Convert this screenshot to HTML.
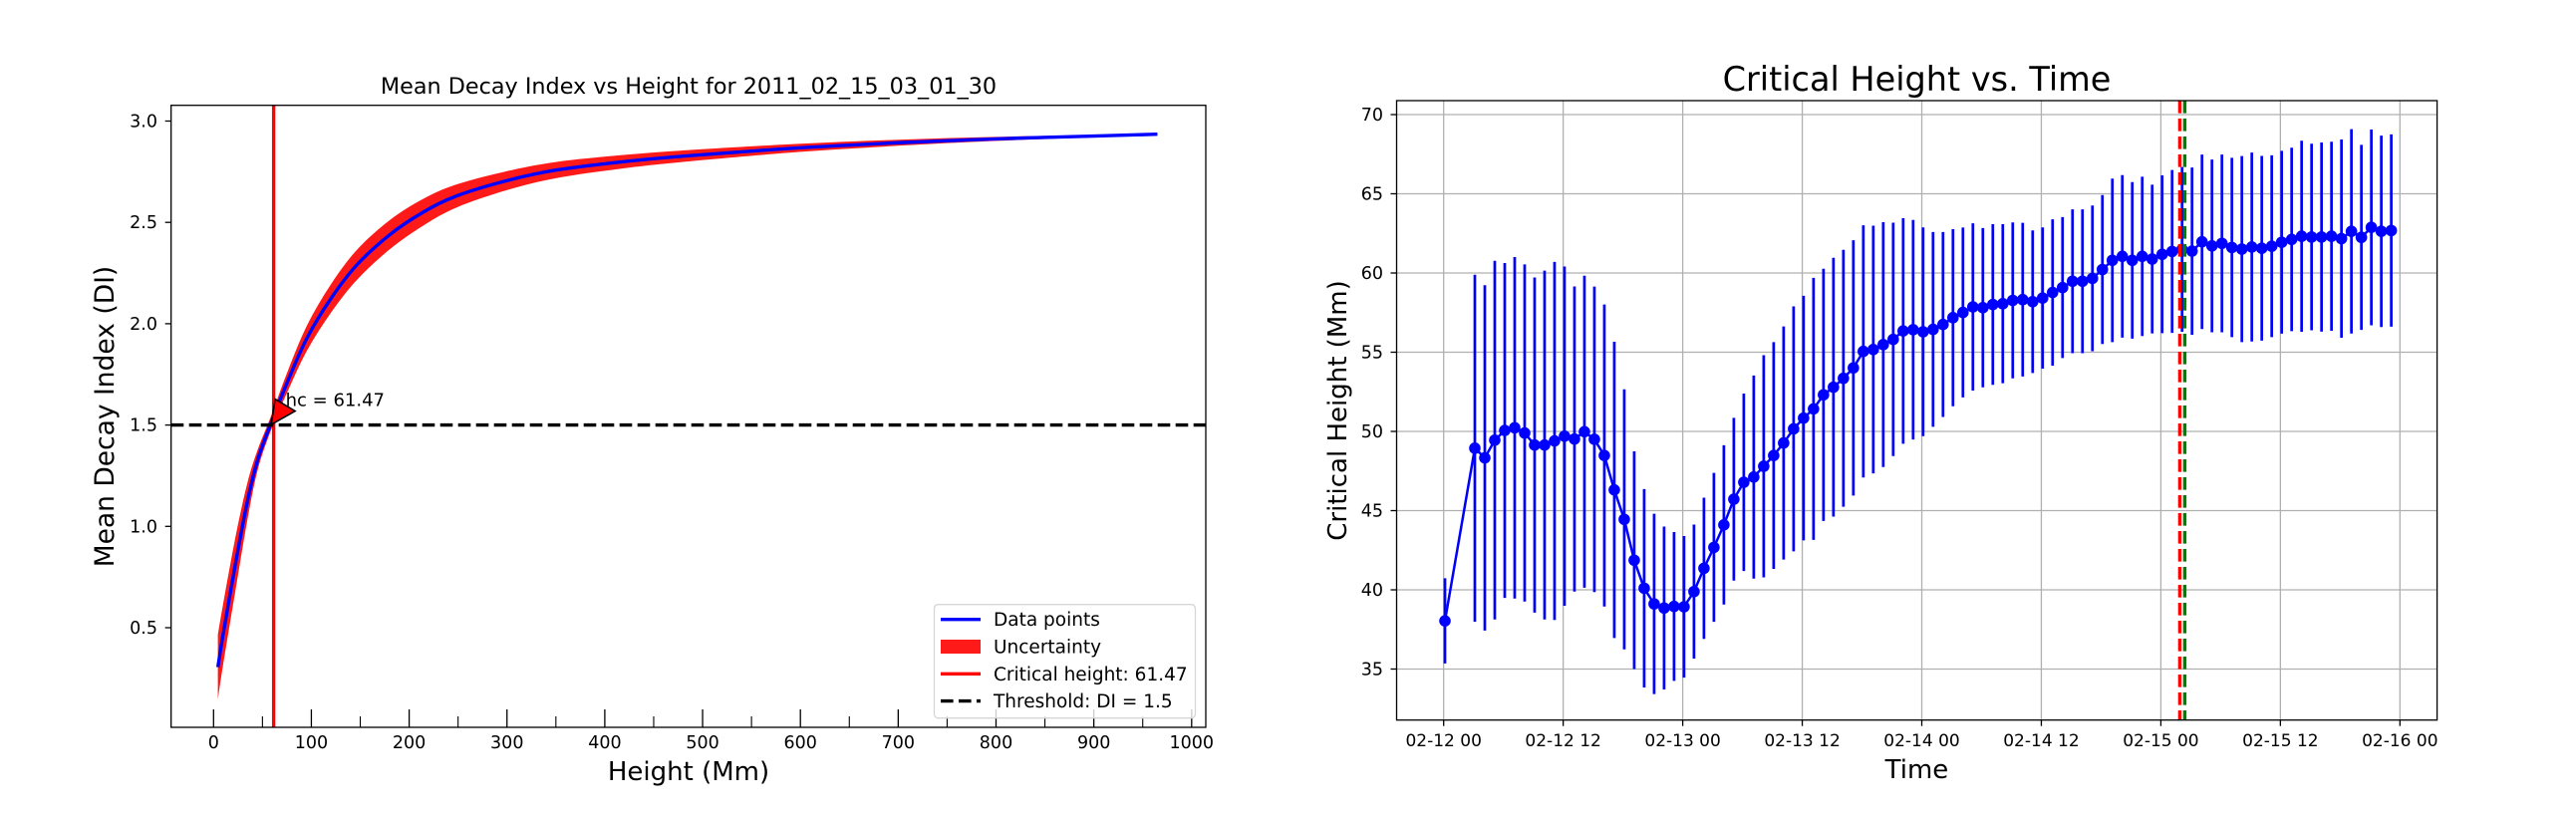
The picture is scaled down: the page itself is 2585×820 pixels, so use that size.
<!DOCTYPE html>
<html><head><meta charset="utf-8"><style>
html,body{margin:0;padding:0;background:#fff;}
svg{display:block;font-family:"DejaVu Sans","Liberation Sans",sans-serif;}
</style></head><body>
<svg id="fig" width="2585" height="820" viewBox="0 0 2585 820" xmlns="http://www.w3.org/2000/svg">
<rect x="0" y="0" width="2585" height="820" fill="#fff"/>
<g id="left"></g>
<g id="right"></g>
<text x="691" y="94" font-size="22.3" text-anchor="middle">Mean Decay Index vs Height for 2011_02_15_03_01_30</text>
<text x="691" y="783" font-size="26" text-anchor="middle">Height (Mm)</text>
<text transform="translate(114,418) rotate(-90)" font-size="26.5" text-anchor="middle">Mean Decay Index (DI)</text>
<text x="1923.5" y="91" font-size="33.5" text-anchor="middle">Critical Height vs. Time</text>
<text x="1923.5" y="781" font-size="26" text-anchor="middle">Time</text>
<text transform="translate(1351,412) rotate(-90)" font-size="26" text-anchor="middle">Critical Height (Mm)</text>
</svg>
<script>
// ---- Left chart data ----
const heights = [4.4, 9.5, 23.1, 34.9, 45.1, 58, 76.4, 95.6, 119.4, 146.5, 180.4, 214.3, 248.3, 299.2, 350, 417.9, 485.8, 600, 700, 800, 900, 965];
const diValues = [0.305, 0.459, 0.834, 1.130, 1.328, 1.5, 1.723, 1.930, 2.120, 2.290, 2.440, 2.550, 2.630, 2.705, 2.758, 2.799, 2.829, 2.868, 2.893, 2.912, 2.926, 2.935];
const diUncertainty = [0.16, 0.15, 0.13, 0.09, 0.05, 0.035, 0.05, 0.062, 0.07, 0.074, 0.072, 0.066, 0.057, 0.047, 0.04, 0.033, 0.028, 0.02, 0.015, 0.01, 0.006, 0.004];
const criticalHeight = 61.47;
const threshold = 1.5;
const leftXTicks = [0, 100, 200, 300, 400, 500, 600, 700, 800, 900, 1000];
const leftXMinor = [50, 150, 250, 350, 450, 550, 650, 750, 850, 950];
const leftYTicks = [0.5, 1.0, 1.5, 2.0, 2.5, 3.0];
const leftYLabels = ["0.5", "1.0", "1.5", "2.0", "2.5", "3.0"];

// ---- Right chart data ----
const hoursFromStart = [0,3,4,5,6,7,8,9,10,11,12,13,14,15,16,17,18,19,20,21,22,23,24,25,26,27,28,29,30,31,32,33,34,35,36,37,38,39,40,41,42,43,44,45,46,47,48,49,50,51,52,53,54,55,56,57,58,59,60,61,62,63,64,65,66,67,68,69,70,71,72,73,74,75,76,77,78,79,80,81,82,83,84,85,86,87,88,89,90,91,92,93,94,95];
const critHeights = [38.04,48.94,48.33,49.45,50.06,50.23,49.90,49.14,49.14,49.40,49.70,49.52,49.98,49.50,48.48,46.31,44.45,41.87,40.10,39.11,38.85,38.95,38.93,39.89,41.36,42.68,44.10,45.72,46.79,47.12,47.80,48.48,49.27,50.16,50.84,51.42,52.31,52.79,53.35,54.01,55.05,55.17,55.48,55.81,56.34,56.42,56.29,56.44,56.75,57.18,57.51,57.86,57.81,58.01,58.06,58.27,58.32,58.19,58.42,58.77,59.08,59.48,59.48,59.66,60.22,60.80,61.05,60.80,61.05,60.88,61.18,61.36,61.49,61.38,61.97,61.71,61.87,61.61,61.51,61.64,61.56,61.69,61.94,62.12,62.32,62.27,62.27,62.32,62.17,62.63,62.25,62.88,62.63,62.68];
const critErrors = [2.69,10.95,10.90,11.32,10.57,10.78,10.64,10.58,11.01,11.30,10.71,9.63,9.85,9.64,9.53,9.35,8.21,6.87,6.26,5.69,5.14,4.70,4.47,4.23,4.46,4.70,5.03,5.14,5.60,6.41,7.01,7.16,7.36,7.73,7.72,8.27,7.96,8.17,8.11,8.06,7.96,7.82,7.73,7.37,7.12,6.93,6.59,6.15,5.84,5.59,5.36,5.28,5.03,5.07,5.02,4.92,4.85,4.50,4.46,4.62,4.45,4.54,4.54,4.60,4.70,5.16,5.13,4.94,5.03,4.69,4.98,5.14,5.20,5.28,5.51,5.45,5.61,5.66,5.87,5.96,5.83,5.74,5.77,5.79,6.03,5.89,5.97,5.97,6.26,6.45,5.84,6.18,6.04,6.07];
const timeOffsetHours = 0.13;
const flareStartHour = 73.9;
const flarePeakHour = 74.4;
const rightXTicks = [0, 12, 24, 36, 48, 60, 72, 84, 96];
const rightXLabels = ["02-12 00","02-12 12","02-13 00","02-13 12","02-14 00","02-14 12","02-15 00","02-15 12","02-16 00"];
const rightYTicks = [35, 40, 45, 50, 55, 60, 65, 70];

const NS = "http://www.w3.org/2000/svg";
function mk(parent, tag, attrs, text) {
  const e = document.createElementNS(NS, tag);
  for (const k in attrs) e.setAttribute(k, attrs[k]);
  if (text !== undefined) e.textContent = text;
  parent.appendChild(e);
  return e;
}
function smoothPath(pts, move) {
  let d = (move ? "M" : "L") + pts[0][0].toFixed(2) + "," + pts[0][1].toFixed(2);
  for (let i = 0; i < pts.length - 1; i++) {
    const p0 = pts[Math.max(0, i - 1)], p1 = pts[i], p2 = pts[i + 1], p3 = pts[Math.min(pts.length - 1, i + 2)];
    const c1x = p1[0] + (p2[0] - p0[0]) / 6, c1y = p1[1] + (p2[1] - p0[1]) / 6;
    const c2x = p2[0] - (p3[0] - p1[0]) / 6, c2y = p2[1] - (p3[1] - p1[1]) / 6;
    d += " C" + c1x.toFixed(2) + "," + c1y.toFixed(2) + " " + c2x.toFixed(2) + "," + c2y.toFixed(2) + " " + p2[0].toFixed(2) + "," + p2[1].toFixed(2);
  }
  return d;
}

// ================= LEFT CHART =================
(function () {
  const g = document.getElementById("left");
  const L = 171.7, R = 1210, T = 105.7, B = 730;
  const xs = v => 214.3 + 0.9815 * v;
  const ys = v => 426.6 - (v - 1.5) * 203.4;
  const clip = mk(g, "clipPath", { id: "clipL" });
  mk(clip, "rect", { x: L, y: T, width: R - L, height: B - T });
  const plot = mk(g, "g", { "clip-path": "url(#clipL)" });

  const upper = heights.map((h, i) => [xs(h), ys(diValues[i] + diUncertainty[i])]);
  const lower = heights.map((h, i) => [xs(h), ys(diValues[i] - diUncertainty[i])]).reverse();
  const band = mk(plot, "path", { d: smoothPath(upper, true) + " " + smoothPath(lower, false) + " Z", fill: "#ff1a1a", stroke: "none" });
  
  

  const line = mk(plot, "path", { d: smoothPath(heights.map((h, i) => [xs(h), ys(diValues[i])]), true), fill: "none", stroke: "#0000ff", "stroke-width": 3.4 });
  
  

  const vl = mk(plot, "line", { x1: xs(criticalHeight), x2: xs(criticalHeight), y1: T, y2: B, stroke: "#ff0000", "stroke-width": 3.4 });
  
  

  const hl = mk(plot, "line", { x1: L, x2: R, y1: ys(threshold), y2: ys(threshold), stroke: "#000", "stroke-width": 3.4, "stroke-dasharray": "12.6 5.4" });
  
  

  const cx = xs(criticalHeight), cy = ys(threshold);
  const at = mk(g, "text", { x: cx + 12, y: cy - 19, "font-size": 18 }, "hc = " + criticalHeight.toFixed(2));
  
  
  const tri = mk(g, "polygon", { points: [[cx + 1.5, cy - 26], [cx + 21.5, cy - 14], [cx - 2.5, cy - 0.5]].map(p => p.join(",")).join(" "), fill: "#ff0000", stroke: "#000", "stroke-width": 1.6 });
  
  

  const fr = mk(g, "rect", { x: L, y: T, width: R - L, height: B - T, fill: "none", stroke: "#000", "stroke-width": 1.3 });
  
  

  leftXTicks.forEach(v => {
    const x = xs(v);
    mk(g, "line", { x1: x, x2: x, y1: B, y2: B - 18, stroke: "#000", "stroke-width": 1.3 });
    const t = mk(g, "text", { x: x, y: 751, "font-size": 17.5, "text-anchor": "middle" }, String(v));
    
    
  });
  leftXMinor.forEach(v => {
    const x = xs(v);
    mk(g, "line", { x1: x, x2: x, y1: B, y2: B - 11, stroke: "#000", "stroke-width": 1.1 });
  });
  leftYTicks.forEach((v, i) => {
    const y = ys(v);
    mk(g, "line", { x1: L, x2: L - 6, y1: y, y2: y, stroke: "#000", "stroke-width": 1.3 });
    const t = mk(g, "text", { x: 158, y: y + 6, "font-size": 17.5, "text-anchor": "end" }, leftYLabels[i]);
    
    
  });

  const lg = mk(g, "g", {});
  
  
  mk(lg, "rect", { x: 937.5, y: 606.7, width: 262, height: 114, rx: 4, fill: "#fff", "fill-opacity": 0.8, stroke: "#d6d6d6", "stroke-width": 1.3 });
  const ly = [621.7, 649, 676.3, 703.6];
  const names = ["Data points", "Uncertainty", "Critical height: " + criticalHeight.toFixed(2), "Threshold: DI = " + threshold];
  const e0 = mk(lg, "line", { x1: 944, x2: 984, y1: ly[0], y2: ly[0], stroke: "#0000ff", "stroke-width": 3.4 });
  
  
  const e1 = mk(lg, "rect", { x: 944, y: ly[1] - 7, width: 40, height: 14, fill: "#ff1a1a" });
  
  
  const e2 = mk(lg, "line", { x1: 944, x2: 984, y1: ly[2], y2: ly[2], stroke: "#ff0000", "stroke-width": 3.4 });
  
  
  const e3 = mk(lg, "line", { x1: 944, x2: 984, y1: ly[3], y2: ly[3], stroke: "#000", "stroke-width": 3.4, "stroke-dasharray": "12.6 5.4" });
  
  
  names.forEach((n, i) => {
    const t = mk(lg, "text", { x: 997, y: ly[i] + 6.5, "font-size": 18.5 }, n);
    
    
  });
})();

// ================= RIGHT CHART =================
(function () {
  const g = document.getElementById("right");
  const L = 1401.5, R = 2445.6, T = 101, B = 722.7;
  const xs = h => 1448.7 + 9.996 * h;
  const ys = v => 115 - (v - 70) * 15.9;
  rightXTicks.forEach(h => mk(g, "line", { x1: xs(h), x2: xs(h), y1: T, y2: B, stroke: "#b0b0b0", "stroke-width": 1.3 }));
  rightYTicks.forEach(v => mk(g, "line", { x1: L, x2: R, y1: ys(v), y2: ys(v), stroke: "#b0b0b0", "stroke-width": 1.3 }));

  const clip = mk(g, "clipPath", { id: "clipR" });
  mk(clip, "rect", { x: L, y: T, width: R - L, height: B - T });
  const plot = mk(g, "g", { "clip-path": "url(#clipR)" });

  hoursFromStart.forEach((h, i) => {
    const x = xs(h + timeOffsetHours);
    const eb = mk(plot, "line", { x1: x, x2: x, y1: ys(critHeights[i] + critErrors[i]), y2: ys(critHeights[i] - critErrors[i]), stroke: "#0000ff", "stroke-width": 2.7 });
    
    
  });
  const pts = hoursFromStart.map((h, i) => xs(h + timeOffsetHours).toFixed(2) + "," + ys(critHeights[i]).toFixed(2)).join(" ");
  const pl = mk(plot, "polyline", { points: pts, fill: "none", stroke: "#0000ff", "stroke-width": 2.5 });
  
  
  hoursFromStart.forEach((h, i) => {
    const c = mk(plot, "circle", { cx: xs(h + timeOffsetHours), cy: ys(critHeights[i]), r: 5.8, fill: "#0000ff" });
    
    
  });
  const rl = mk(plot, "line", { x1: xs(flareStartHour), x2: xs(flareStartHour), y1: T, y2: B, stroke: "#ff0000", "stroke-width": 3.4, "stroke-dasharray": "12.6 5.4" });
  
  
  const gl = mk(plot, "line", { x1: xs(flarePeakHour), x2: xs(flarePeakHour), y1: T, y2: B, stroke: "#008000", "stroke-width": 3.4, "stroke-dasharray": "12.6 5.4" });
  
  

  const fr = mk(g, "rect", { x: L, y: T, width: R - L, height: B - T, fill: "none", stroke: "#000", "stroke-width": 1.3 });
  
  

  rightXTicks.forEach((h, i) => {
    const x = xs(h);
    mk(g, "line", { x1: x, x2: x, y1: B, y2: B + 6, stroke: "#000", "stroke-width": 1.3 });
    const t = mk(g, "text", { x: x, y: 749, "font-size": 17, "text-anchor": "middle" }, rightXLabels[i]);
    
    
  });
  rightYTicks.forEach(v => {
    const y = ys(v);
    mk(g, "line", { x1: L, x2: L - 6, y1: y, y2: y, stroke: "#000", "stroke-width": 1.3 });
    const t = mk(g, "text", { x: 1388, y: y + 6, "font-size": 17.5, "text-anchor": "end" }, String(v));
    
    
  });
})();
</script>
</body></html>
